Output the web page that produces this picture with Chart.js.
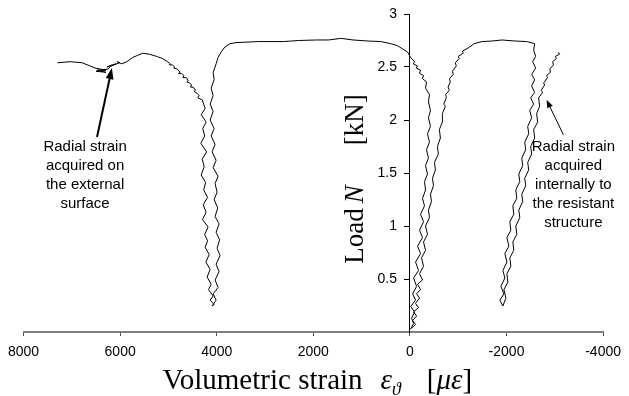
<!DOCTYPE html>
<html>
<head>
<meta charset="utf-8">
<script src="https://cdn.jsdelivr.net/npm/chart.js@4.4.1/dist/chart.umd.min.js"></script>
<style>
    body { margin: 0; background: #fff; }
    canvas { display: block; }
</style>
</head>
<body>
<canvas id="strain-chart" width="629" height="396"></canvas>
<script>
// radial strain, external surface: plateau, descent and loading branch at ~4000
const extStrain = [7301, 7034, 6788, 6623, 6520, 6294, 6500, 6294, 6479, 6253, 6171, 6274, 6089, 6192, 6007, 6060,
    5966, 5863, 5740, 5637, 5534, 5390, 5246, 5123,
    5020, 4960, 4980, 4918, 4870, 4890, 4815, 4760, 4790, 4733, 4680, 4700, 4630, 4590, 4620, 4560, 4520, 4545, 4486,
    4440, 4470, 4400, 4363, 4395, 4301,
    4240, 4322, 4219, 4290, 4250, 4330, 4210, 4301, 4260, 4322, 4230, 4270, 4190, 4281, 4220, 4295, 4178, 4250, 4190, 4240,
    4157, 4225, 4137, 4199, 4116, 4170, 4075, 4137, 4054, 4096]
const extLoad = [2.54, 2.55, 2.54, 2.51, 2.49, 2.47, 2.46, 2.45, 2.47, 2.48, 2.52, 2.50, 2.53, 2.51, 2.54, 2.55,
    2.53, 2.55, 2.59, 2.61, 2.63, 2.62, 2.60, 2.58,
    2.55, 2.53, 2.52, 2.52, 2.50, 2.49, 2.48, 2.45, 2.44, 2.44, 2.42, 2.40, 2.40, 2.37, 2.36, 2.35, 2.33, 2.31, 2.31,
    2.28, 2.27, 2.25, 2.23, 2.21, 2.19,
    2.11, 2.05, 1.98, 1.92, 1.85, 1.78, 1.70, 1.63, 1.56, 1.48, 1.41, 1.34, 1.27, 1.20, 1.13, 1.06, 0.99, 0.92, 0.86, 0.80,
    0.73, 0.66, 0.59, 0.52, 0.45, 0.40, 0.34, 0.30, 0.26, 0.245]

// volumetric strain, first branch: up at ~4000, across the top, down next to zero
const volStrain1 = [4096, 4013, 4075, 3972, 4034, 3952, 4013, 3931, 3993, 3940, 4013, 3952, 4034, 3980, 4054, 3993,
    4034, 3972, 4075, 4013, 4096, 4034, 4116, 4054, 4137, 4075, 4137, 4075, 4116, 4054, 4075, 4013, 3972, 3911, 3829, 3726, 3603,
    3130, 2616, 2308, 1938, 1691, 1424, 1178, 869, 602, 397, 253, 150, 47, -15, -97, -70, -158, -130, -220, -200, -282, -260, -343, -323,
    -405, -384, -426, -384, -426, -364, -405, -343, -384, -323, -364, -302, -323, -261, -302, -220, -282, -199, -261,
    -158, -220, -117, -179, -76, -138, -56, -117, -15, -97, -35, -76, -15]
const volLoad1 = [0.245, 0.30, 0.36, 0.42, 0.49, 0.57, 0.64, 0.72, 0.79, 0.87, 0.94, 1.02, 1.09, 1.17, 1.25, 1.32,
    1.40, 1.47, 1.55, 1.62, 1.70, 1.77, 1.85, 1.92, 2.00, 2.08, 2.15, 2.23, 2.30, 2.38, 2.45, 2.53, 2.59, 2.64, 2.69, 2.72, 2.73,
    2.74, 2.74, 2.75, 2.755, 2.755, 2.77, 2.755, 2.745, 2.74, 2.72, 2.70, 2.67, 2.64, 2.59, 2.55, 2.53, 2.51, 2.49, 2.47, 2.44, 2.42, 2.39, 2.36, 2.30,
    2.24, 2.17, 2.09, 2.02, 1.94, 1.87, 1.79, 1.72, 1.64, 1.57, 1.49, 1.42, 1.34, 1.26, 1.19, 1.11, 1.04, 0.96, 0.89,
    0.81, 0.74, 0.66, 0.58, 0.51, 0.43, 0.36, 0.30, 0.24, 0.19, 0.13, 0.08, 0.03]

// volumetric strain, second branch: up from zero, across the top, down to ~-1900
const volStrain2 = [-15, -117, -56, -138, -76, -179, -117, -199, -138, -220, -158, -261, -199, -282, -241, -323, -282,
    -364, -323, -405, -384, -446, -426, -487, -467, -528, -508, -590, -569, -631, -610,
    -672, -672, -734, -700, -754, -740, -816, -790, -836, -820, -898, -880, -960, -940, -1022, -1000, -1104, -1090, -1206, -1330,
    -1494, -1699, -1905, -2172, -2418, -2583,
    -2562, -2603, -2542, -2603, -2521, -2583, -2521, -2583, -2501, -2562, -2480, -2521, -2439, -2460, -2377, -2398, -2316,
    -2336, -2254, -2275, -2193, -2213, -2131, -2151, -2069, -2090, -2008, -2049, -1966, -2008, -1925, -1966, -1884,
    -1946, -1864, -1925]
const volLoad2 = [0.03, 0.07, 0.11, 0.15, 0.19, 0.23, 0.27, 0.32, 0.36, 0.40, 0.45, 0.49, 0.55, 0.62, 0.70, 0.77, 0.85,
    0.92, 1.00, 1.08, 1.15, 1.23, 1.30, 1.38, 1.45, 1.53, 1.60, 1.68, 1.75, 1.83, 1.91,
    1.98, 2.06, 2.13, 2.15, 2.21, 2.24, 2.28, 2.31, 2.36, 2.39, 2.43, 2.46, 2.51, 2.54, 2.58, 2.60, 2.63, 2.65, 2.68, 2.72,
    2.74, 2.745, 2.755, 2.745, 2.74, 2.72,
    2.66, 2.60, 2.55, 2.49, 2.43, 2.38, 2.32, 2.26, 2.21, 2.15, 2.09, 2.02, 1.94, 1.87, 1.79, 1.72, 1.64,
    1.57, 1.49, 1.42, 1.34, 1.26, 1.19, 1.11, 1.04, 0.96, 0.89, 0.81, 0.74, 0.66, 0.58, 0.51, 0.43,
    0.36, 0.30, 0.245]

// radial strain, internal gauge
const intStrain = [-1925, -1987, -1946, -2028, -2008, -2090, -2069, -2151, -2131, -2213, -2193, -2275, -2254, -2336,
    -2316, -2398, -2377, -2460, -2439, -2521, -2501, -2583, -2562, -2644, -2624, -2686, -2665,
    -2747, -2720, -2788, -2770, -2850, -2830, -2911, -2895, -2973, -2955, -3035, -3010, -3097, -3076]
const intLoad = [0.245, 0.32, 0.40, 0.47, 0.55, 0.62, 0.70, 0.77, 0.85, 0.92, 1.00, 1.08, 1.15, 1.23,
    1.30, 1.38, 1.45, 1.53, 1.60, 1.68, 1.75, 1.83, 1.91, 1.98, 2.06, 2.13, 2.21,
    2.26, 2.28, 2.33, 2.35, 2.40, 2.42, 2.45, 2.48, 2.52, 2.55, 2.58, 2.60, 2.62, 2.64]

const strainTicks = [8000, 6000, 4000, 2000, 0, -2000, -4000]
const loadTicks = [0.5, 1, 1.5, 2, 2.5, 3]

// callouts, in axis units: text centre, line loads, arrow tail -> tip
const extNote = ['Radial strain', 'acquired on', 'the external', 'surface']
const extNoteX = 6726
const extNoteY = [1.745, 1.566, 1.387, 1.208]
const extArrow = [6479, 1.84, 6171, 2.49]
const intNote = ['Radial strain', 'acquired', 'internally to', 'the resistant', 'structure']
const intNoteX = -3384
const intNoteY = [1.745, 1.566, 1.387, 1.208, 1.028]
const intArrow = [-3179, 1.86, -2829, 2.19]

const sans = '"Liberation Sans", Arial, sans-serif'
const serif = '"Liberation Serif", "Times New Roman", serif'

function toPoints(xs, ys) {
    return xs.map(function (v, i) { return {x: v, y: ys[i]} })
}

function curve(xs, ys) {
    return {
        data: toPoints(xs, ys),
        showLine: true,
        borderColor: '#000',
        borderWidth: 1,
        pointRadius: 0,
        tension: 0
    }
}

function drawArrow(ctx, x1, y1, x2, y2, width, headLen, headW) {
    const ang = Math.atan2(y2 - y1, x2 - x1)
    const bx = x2 - headLen * Math.cos(ang)
    const by = y2 - headLen * Math.sin(ang)
    ctx.strokeStyle = '#000'
    ctx.fillStyle = '#000'
    ctx.lineWidth = width
    ctx.beginPath()
    ctx.moveTo(x1, y1)
    ctx.lineTo(bx, by)
    ctx.stroke()
    ctx.beginPath()
    ctx.moveTo(x2, y2)
    ctx.lineTo(bx + headW * Math.sin(ang), by - headW * Math.cos(ang))
    ctx.lineTo(bx - headW * Math.sin(ang), by + headW * Math.cos(ang))
    ctx.closePath()
    ctx.fill()
}

// draw text pieces one after another, each [text, font, dy, gapAfter]
function drawRun(ctx, parts, x, y) {
    parts.forEach(function (p) {
        ctx.font = p[1]
        ctx.fillText(p[0], x, y + p[2])
        x += ctx.measureText(p[0]).width + p[3]
    })
}

function runWidth(ctx, parts) {
    let w = 0
    parts.forEach(function (p) { ctx.font = p[1]; w += ctx.measureText(p[0]).width + p[3] })
    return w
}

// load tick labels, callouts, arrows and the two axis titles
const notesPlugin = {
    id: 'notes',
    afterDraw: function (chart) {
        const ctx = chart.ctx
        const sx = chart.scales.x
        const sy = chart.scales.y
        const axisX = sx.getPixelForValue(0)
        ctx.save()

        // labels of the load axis, left of the axis line at zero strain
        ctx.font = '14px ' + sans
        ctx.fillStyle = '#000'
        ctx.textAlign = 'right'
        ctx.textBaseline = 'middle'
        loadTicks.forEach(function (v) {
            ctx.fillText(String(v), axisX - 13, sy.getPixelForValue(v))
        })

        ctx.font = '15px ' + sans
        ctx.textAlign = 'center'
        extNote.forEach(function (t, i) {
            ctx.fillText(t, sx.getPixelForValue(extNoteX), sy.getPixelForValue(extNoteY[i]))
        })
        intNote.forEach(function (t, i) {
            ctx.fillText(t, sx.getPixelForValue(intNoteX), sy.getPixelForValue(intNoteY[i]))
        })
        drawArrow(ctx, sx.getPixelForValue(extArrow[0]), sy.getPixelForValue(extArrow[1]),
            sx.getPixelForValue(extArrow[2]), sy.getPixelForValue(extArrow[3]), 2, 11, 4)
        drawArrow(ctx, sx.getPixelForValue(intArrow[0]), sy.getPixelForValue(intArrow[1]),
            sx.getPixelForValue(intArrow[2]), sy.getPixelForValue(intArrow[3]), 1, 8, 3)

        // x title sits over the lower edge of the tick labels
        ctx.fillStyle = '#fff'
        ctx.fillRect(0, 357, chart.width, chart.height - 357)
        ctx.fillStyle = '#000'
        ctx.textAlign = 'left'
        ctx.textBaseline = 'alphabetic'
        const xParts = [
            ['Volumetric strain', '29px ' + serif, 0, 18],
            ['\u03b5', 'italic 29px ' + serif, 0, 0],
            ['\u03d1', 'italic 18px ' + serif, 6, 26],
            ['[', '29px ' + serif, 0, 0],
            ['\u03bc\u03b5', 'italic 29px ' + serif, 0, 0],
            [']', '29px ' + serif, 0, 0]
        ]
        const xMid = (chart.chartArea.left + chart.chartArea.right) / 2 + 4
        drawRun(ctx, xParts, xMid - runWidth(ctx, xParts) / 2, 389)

        // y title, rotated beside the axis at zero strain
        const yParts = [
            ['Load', '27px ' + serif, 0, 5],
            ['N', 'italic 27px ' + serif, 0, 40],
            ['[kN]', '27px ' + serif, 0, 0]
        ]
        ctx.translate(axisX - 47, (chart.chartArea.top + chart.chartArea.bottom) / 2 + 6)
        ctx.rotate(-Math.PI / 2)
        drawRun(ctx, yParts, -runWidth(ctx, yParts) / 2, 0)
        ctx.restore()
    }
}

window.onload = function () {
    const ctx = document.getElementById('strain-chart').getContext('2d')
    new Chart(ctx, {
        type: 'scatter',
        data: {
            datasets: [
                curve(extStrain, extLoad),
                curve(volStrain1, volLoad1),
                curve(volStrain2, volLoad2),
                curve(intStrain, intLoad)
            ]
        },
        options: {
            responsive: false,
            animation: false,
            events: [],
            layout: {padding: {left: 23, right: 22, top: 14, bottom: 0}},
            plugins: {legend: {display: false}, tooltip: {enabled: false}},
            scales: {
                x: {
                    type: 'linear',
                    reverse: true,
                    min: -4000,
                    max: 8000,
                    afterFit: function (scale) { scale.height = 64 },
                    afterBuildTicks: function (scale) {
                        scale.ticks = strainTicks.map(function (v) { return {value: v} })
                    },
                    border: {color: '#808080', width: 2},
                    grid: {drawOnChartArea: false, tickLength: 4, color: '#505050'},
                    ticks: {
                        color: '#000',
                        padding: 8,
                        maxRotation: 0,
                        autoSkip: false,
                        font: {family: sans, size: 14},
                        callback: function (v) { return String(v) }
                    }
                },
                y: {
                    type: 'linear',
                    position: {x: 0},
                    min: 0,
                    max: 3,
                    afterBuildTicks: function (scale) {
                        scale.ticks = [0].concat(loadTicks).map(function (v) { return {value: v} })
                    },
                    border: {color: '#000', width: 1},
                    grid: {drawOnChartArea: false, tickLength: 5, color: '#000'},
                    ticks: {display: false}
                }
            }
        },
        plugins: [notesPlugin]
    })
}
</script>
</body>
</html>
